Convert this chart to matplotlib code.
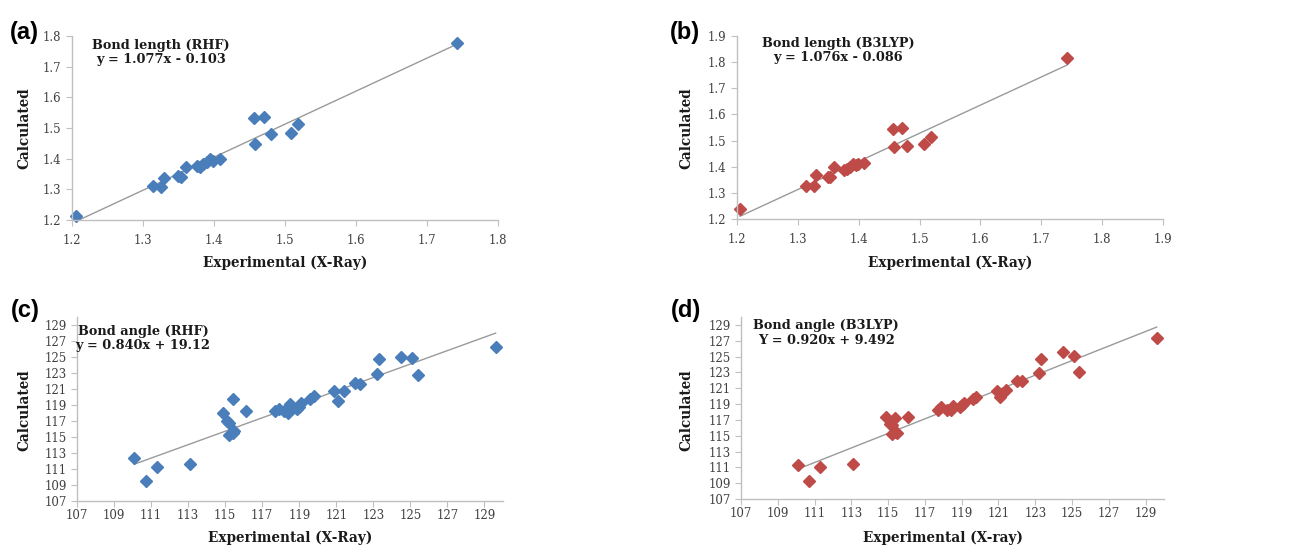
import numpy as np
import matplotlib.pyplot as plt

W, H = 1309, 551

# experimental vs calculated bond lengths (A)
exp_len = [1.205, 1.314, 1.326, 1.329, 1.349, 1.353, 1.360, 1.376, 1.380, 1.385, 1.390,
           1.395, 1.399, 1.408, 1.456, 1.458, 1.471, 1.480, 1.508, 1.519, 1.742]
rhf_len = [1.214, 1.312, 1.308, 1.336, 1.342, 1.339, 1.374, 1.376, 1.372, 1.384, 1.390,
           1.399, 1.393, 1.400, 1.534, 1.447, 1.537, 1.482, 1.484, 1.512, 1.778]
b3lyp_len = [1.238, 1.325, 1.325, 1.368, 1.360, 1.362, 1.399, 1.386, 1.390, 1.400, 1.410,
             1.406, 1.411, 1.416, 1.543, 1.474, 1.547, 1.480, 1.487, 1.515, 1.817]

# experimental vs calculated bond angles (deg)
exp_ang = [110.1, 110.7, 111.3, 113.1, 114.9, 115.1, 115.2, 115.2, 115.4, 115.4, 115.5,
           116.1, 117.7, 117.9, 118.2, 118.4, 118.5, 118.9, 119.0, 119.1, 119.6, 119.8,
           120.9, 121.1, 121.4, 122.0, 122.3, 123.2, 123.3, 124.5, 125.1, 125.4, 129.6]
rhf_ang = [112.4, 109.5, 111.2, 111.6, 118.0, 117.0, 116.8, 115.3, 119.8, 115.5, 115.7,
           118.3, 118.3, 118.5, 118.2, 118.0, 119.1, 118.5, 118.8, 119.2, 119.8, 120.1,
           120.7, 119.5, 120.7, 121.7, 121.6, 122.9, 124.8, 125.0, 124.9, 122.7, 126.3]
b3lyp_ang = [111.3, 109.3, 111.1, 111.4, 117.3, 116.5, 116.3, 115.2, 117.2, 115.5, 115.4,
             117.3, 118.3, 118.6, 118.3, 118.2, 118.8, 118.6, 118.9, 119.1, 119.7, 119.9,
             120.7, 119.9, 120.8, 121.9, 121.9, 122.9, 124.7, 125.6, 125.1, 123.1, 127.3]

# linear fits shown on the panels (slope, intercept)
fit_rhf_len = (1.077, -0.103)
fit_b3lyp_len = (1.076, -0.086)
fit_rhf_ang = (0.840, 19.12)
fit_b3lyp_ang = (0.920, 9.492)

blue = '#4A7EBB'
red = '#BE4B48'


def px_rect(l, t, r, b):
    return [l / W, 1 - b / H, (r - l) / W, (b - t) / H]


panels = [
    # rect, x, y, fit, colour, lims, ticks, fmt, title lines, text pos, letter pos, label
    (px_rect(72, 36, 498, 220), exp_len, rhf_len, fit_rhf_len, blue,
     (1.2, 1.8), (1.2, 1.8), np.arange(1.2, 1.81, 0.1), np.arange(1.2, 1.81, 0.1), '%.1f',
     ['Bond length (RHF)', 'y = 1.077x - 0.103'], (161, 53), (24, 32), '(a)',
     'Experimental (X-Ray)', (285, 263), (24, 128), 6),
    (px_rect(737, 36, 1163, 219), exp_len, b3lyp_len, fit_b3lyp_len, red,
     (1.2, 1.9), (1.2, 1.9), np.arange(1.2, 1.91, 0.1), np.arange(1.2, 1.91, 0.1), '%.1f',
     ['Bond length (B3LYP)', 'y = 1.076x - 0.086'], (838, 50), (685, 32), '(b)',
     'Experimental (X-Ray)', (950, 263), (686, 128), 6),
    (px_rect(77, 317, 503, 501), exp_ang, rhf_ang, fit_rhf_ang, blue,
     (107, 130), (107, 130), np.arange(107, 130, 2), np.arange(107, 130, 2), '%d',
     ['Bond angle (RHF)', 'y = 0.840x + 19.12'], (143, 338), (25, 311), '(c)',
     'Experimental (X-Ray)', (290, 538), (24, 410), 1.5),
    (px_rect(741, 317, 1164, 499), exp_ang, b3lyp_ang, fit_b3lyp_ang, red,
     (107, 130), (107, 130), np.arange(107, 130, 2), np.arange(107, 130, 2), '%d',
     ['Bond angle (B3LYP)', 'Y = 0.920x + 9.492'], (826, 333), (686, 311), '(d)',
     'Experimental (X-ray)', (943, 538), (686, 410), 1.5),
]

fig = plt.figure(figsize=(W / 100, H / 100), dpi=100)

for (rect, xs, ys, fit, col, xlim, ylim, xt, yt, fmt, lines, tpos, lpos, letter,
     xlab, xlpos, ylpos, xpad) in panels:
    ax = fig.add_axes(rect)
    # trend line over the range of the data
    xx = np.array([min(xs), max(xs)])
    ax.plot(xx, fit[0] * xx + fit[1], color='#9a9a9a', lw=1.0, zorder=1)
    ax.plot(xs, ys, 'D', color=col, ms=6.5, mec=col, zorder=2, clip_on=False)
    ax.set_xlim(*xlim)
    ax.set_ylim(*ylim)
    ax.set_xticks(xt)
    ax.set_yticks(yt)
    ax.set_xticklabels([fmt % v for v in xt])
    ax.set_yticklabels([fmt % v for v in yt])
    for s in ['top', 'right']:
        ax.spines[s].set_visible(False)
    for s in ['left', 'bottom']:
        ax.spines[s].set_color('#c0c0c0')
        ax.spines[s].set_linewidth(1.0)
    ax.tick_params(direction='out', length=4, width=0.8, color='#c0c0c0',
                   labelcolor='#404040', labelsize=8.5)
    for lab in ax.get_xticklabels() + ax.get_yticklabels():
        lab.set_family('DejaVu Serif')
    ax.tick_params(axis='x', pad=xpad)
    ax.set_facecolor('none')

    fig.text(tpos[0] / W, 1 - tpos[1] / H, lines[0] + '\n' + lines[1], ha='center', va='center',
             family='DejaVu Serif', weight='bold', fontsize=9.3, color='#1a1a1a', linespacing=1.1)
    fig.text(lpos[0] / W, 1 - lpos[1] / H, letter, ha='center', va='center',
             family='Liberation Sans', weight='bold', fontsize=17, color='black')
    fig.text(xlpos[0] / W, 1 - xlpos[1] / H, xlab, ha='center', va='center',
             family='DejaVu Serif', weight='bold', fontsize=9.8, color='#1a1a1a')
    fig.text(ylpos[0] / W, 1 - ylpos[1] / H, 'Calculated', ha='center', va='center', rotation=90,
             family='DejaVu Serif', weight='bold', fontsize=9.8, color='#1a1a1a')

fig.savefig('out.png', dpi=100)
plt.close('all')
